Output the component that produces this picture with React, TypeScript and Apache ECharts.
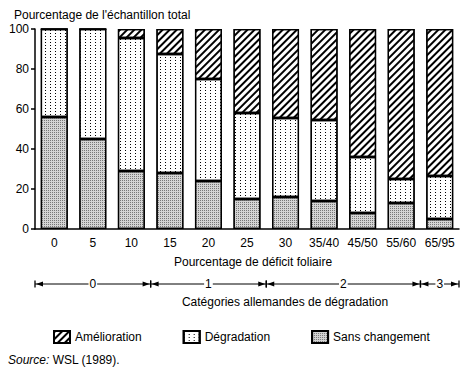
import React, { useEffect, useRef } from 'react';
import * as echarts from 'echarts';

const categories = ['0', '5', '10', '15', '20', '25', '30', '35/40', '45/50', '55/60', '65/95'];
const sansChangement = [56, 45, 29, 28, 24, 15, 16, 14, 8, 13, 5];
const degradation = [44, 55, 66.5, 59.5, 51, 43, 39.5, 40.5, 28, 12, 21.5];
const amelioration = [0, 0, 4.5, 12.5, 25, 42, 44.5, 45.5, 64, 75, 73.5];

const germanLabels = ['0', '1', '2', '3'];
const germanStart = [0, 3, 6, 10];
const germanEnd = [2, 5, 9, 10];

const FONT = '"Liberation Sans", Arial, Helvetica, sans-serif';

const hatchDecal = {
  symbol: 'rect',
  symbolSize: 1,
  color: '#000',
  dashArrayX: [1, 0],
  dashArrayY: [1.4, 2.3],
  rotation: -Math.PI / 4,
};
const dotDecal = {
  symbol: 'rect',
  symbolSize: 1,
  color: '#000',
  dashArrayX: [1, 3.5],
  dashArrayY: [1, 1.5],
  rotation: 0,
};
const stippleDecal = {
  symbol: 'rect',
  symbolSize: 1,
  color: '#777',
  dashArrayX: [1, 1],
  dashArrayY: [1, 1],
  rotation: 0,
};

export default function App() {
  const ref = useRef<HTMLDivElement>(null);
  useEffect(() => {
    if (!ref.current) return;
    const chart = echarts.init(ref.current, null, { renderer: 'svg' });
    const barStyle = { borderColor: '#000', borderWidth: 1.3 };
    chart.setOption({
      animation: false,
      textStyle: { fontFamily: FONT, color: '#000' },
      title: {
        text: "Pourcentage de l'échantillon total",
        left: 9,
        top: 4,
        textStyle: { fontFamily: FONT, fontSize: 12, fontWeight: 'normal', color: '#000' },
      },
      grid: { left: 35, right: 9, top: 29, bottom: 143 },
      legend: {
        data: ['Amélioration', 'Dégradation', 'Sans changement'],
        left: 53,
        top: 330,
        padding: 0,
        icon: 'rect',
        itemWidth: 16,
        itemHeight: 12,
        itemGap: 41,
        textStyle: { fontFamily: FONT, fontSize: 12, color: '#000' },
      },
      xAxis: {
        type: 'category',
        data: categories,
        axisLine: { lineStyle: { color: '#000', width: 1.5 } },
        axisTick: { show: false },
        axisLabel: { color: '#000', fontSize: 12, fontFamily: FONT, margin: 8, interval: 0 },
      },
      yAxis: {
        type: 'value',
        min: 0,
        max: 100,
        interval: 20,
        splitLine: { show: false },
        axisLine: { show: true, lineStyle: { color: '#000', width: 1.5 } },
        axisTick: { show: true, length: 4, lineStyle: { color: '#000', width: 1.5 } },
        axisLabel: { color: '#000', fontSize: 12, fontFamily: FONT, margin: 6 },
      },
      series: [
        {
          name: 'Sans changement',
          type: 'bar',
          stack: 'total',
          barWidth: 27,
          data: sansChangement,
          itemStyle: { ...barStyle, color: '#d4d4d4', decal: stippleDecal },
        },
        {
          name: 'Dégradation',
          type: 'bar',
          stack: 'total',
          barWidth: 27,
          data: degradation,
          itemStyle: { ...barStyle, color: '#fff', decal: dotDecal },
        },
        {
          name: 'Amélioration',
          type: 'bar',
          stack: 'total',
          barWidth: 27,
          data: amelioration,
          itemStyle: { ...barStyle, color: '#fff', decal: hatchDecal },
        },
      ],
    });

    const cx = (i: number) => chart.convertToPixel({ xAxisIndex: 0 }, i) as number;
    const band = cx(1) - cx(0);
    const y = 284;
    const elements: any[] = [];
    germanLabels.forEach((lab, g) => {
      const L = cx(germanStart[g]) - band / 2;
      const R = cx(germanEnd[g]) + band / 2;
      elements.push({
        type: 'line',
        shape: { x1: L, y1: y, x2: R, y2: y },
        style: { stroke: '#000', lineWidth: 1 },
      });
      elements.push({
        type: 'line',
        shape: { x1: L, y1: y - 3.5, x2: L, y2: y + 3.5 },
        style: { stroke: '#000', lineWidth: 1.3 },
      });
      elements.push({
        type: 'line',
        shape: { x1: R, y1: y - 3.5, x2: R, y2: y + 3.5 },
        style: { stroke: '#000', lineWidth: 1.3 },
      });
      elements.push({
        type: 'polygon',
        shape: { points: [[L + 1, y], [L + 8, y - 2.5], [L + 8, y + 2.5]] },
        style: { fill: '#000' },
      });
      elements.push({
        type: 'polygon',
        shape: { points: [[R - 1, y], [R - 8, y - 2.5], [R - 8, y + 2.5]] },
        style: { fill: '#000' },
      });
      elements.push({
        type: 'text',
        x: (L + R) / 2,
        y,
        style: {
          text: lab,
          fontSize: 12,
          fontFamily: FONT,
          fill: '#000',
          align: 'center',
          verticalAlign: 'middle',
          backgroundColor: '#fff',
          padding: [0, 1],
        },
      });
    });
    elements.push({
      type: 'text',
      x: 253,
      y: 262,
      style: {
        text: 'Pourcentage de déficit foliaire',
        fontSize: 12,
        fontFamily: FONT,
        fill: '#000',
        align: 'center',
        verticalAlign: 'middle',
      },
    });
    elements.push({
      type: 'text',
      x: 285,
      y: 302,
      style: {
        text: 'Catégories allemandes de dégradation',
        fontSize: 12,
        fontFamily: FONT,
        fill: '#000',
        align: 'center',
        verticalAlign: 'middle',
      },
    });
    elements.push({
      type: 'text',
      x: 8,
      y: 360,
      style: {
        text: '{i|Source:} WSL (1989).',
        fontSize: 12,
        fontFamily: FONT,
        fill: '#000',
        align: 'left',
        verticalAlign: 'middle',
        rich: { i: { fontStyle: 'italic', fontSize: 12, fontFamily: FONT, fill: '#000' } },
      },
    });
    chart.setOption({ graphic: { elements } });
    return () => chart.dispose();
  }, []);
  return <div ref={ref} style={{ width: 468, height: 372, position: 'absolute', left: 0, top: 0 }} />;
}
